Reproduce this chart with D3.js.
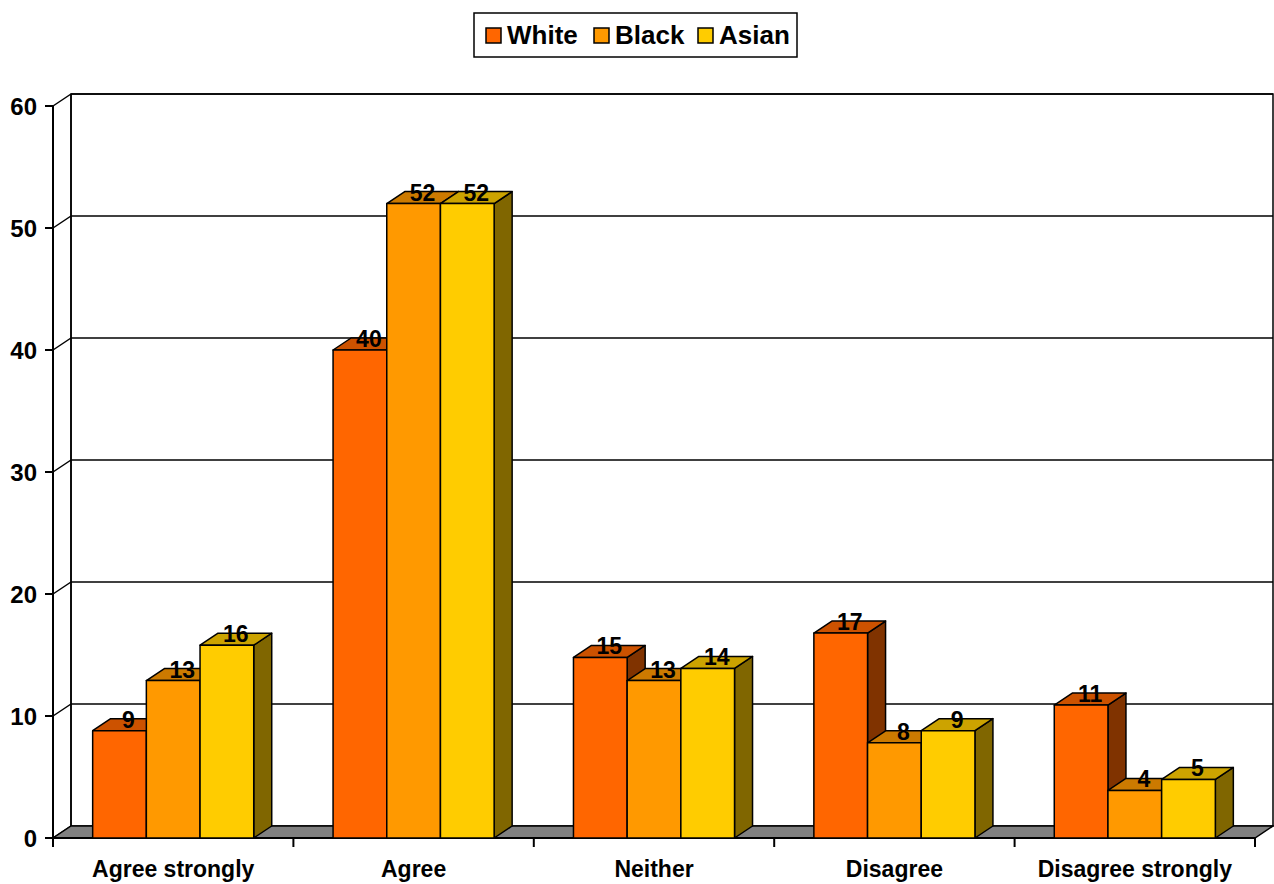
<!DOCTYPE html>
<html><head><meta charset="utf-8">
<script src="https://cdn.jsdelivr.net/npm/d3@7"></script>
<style>html,body{margin:0;padding:0;background:#fff;}svg{display:block;font-family:"Liberation Sans",Arial,sans-serif;font-weight:bold;}</style>
</head><body>
<svg id="c" width="1274" height="884"></svg>
<script>
const categories = ["Agree strongly","Agree","Neither","Disagree","Disagree strongly"];
const seriesNames = ["White","Black","Asian"];
const white = [8.8, 40, 14.8, 16.8, 10.9];
const black = [12.9, 52, 12.9, 7.8, 3.9];
const asian = [15.8, 52, 13.9, 8.8, 4.8];
const yTicks = [0,10,20,30,40,50,60];
const colors = ["#FF6600","#FF9900","#FFCC00"];

const seriesValues = [white, black, asian];
const svg = d3.select("#c");
const DX = 18, DY = -12;
const x0 = 53, x1 = 1255, yBase = 838, yTop = 106;

const x = d3.scaleBand().domain(categories).range([x0, x1]).paddingInner(0.33).paddingOuter(0.165);
const xs = d3.scaleBand().domain(seriesNames).range([0, x.bandwidth()]);
const y = d3.scaleLinear().domain([0,60]).range([yBase, yTop]);

const shade = (c,k) => { const r = d3.rgb(c); return d3.rgb(r.r*k, r.g*k, r.b*k).formatHex(); };
const poly = pts => pts.map(p => p.join(",")).join(" ");

// Back wall
const gWall = svg.append("g");
gWall.append("polygon")
  .attr("points", poly([[x0+DX, y(60)+DY],[x1+DX, y(60)+DY],[x1+DX, yBase+DY],[x0+DX, yBase+DY]]))
  .attr("fill","#fff").attr("stroke","#000").attr("stroke-width",1.5);
yTicks.forEach(t => {
  if (t > 0) gWall.append("line").attr("x1", x0+DX).attr("x2", x1+DX).attr("y1", y(t)+DY).attr("y2", y(t)+DY)
      .attr("stroke","#000").attr("stroke-width",1.5);
  gWall.append("line").attr("x1", x0).attr("x2", x0+DX).attr("y1", y(t)).attr("y2", y(t)+DY)
      .attr("stroke","#000").attr("stroke-width",1.5);
});
gWall.append("line").attr("x1", x0+DX).attr("x2", x0+DX).attr("y1", y(60)+DY).attr("y2", yBase+DY).attr("stroke","#000").attr("stroke-width",1.5);

// Floor
svg.append("polygon")
  .attr("points", poly([[x0, yBase],[x1, yBase],[x1+DX, yBase+DY],[x0+DX, yBase+DY]]))
  .attr("fill","#808080").attr("stroke","#000").attr("stroke-width",1.5);

// Y axis
const gy = svg.append("g");
gy.append("line").attr("x1", x0).attr("x2", x0).attr("y1", y(60)).attr("y2", yBase).attr("stroke","#000").attr("stroke-width",2);
yTicks.forEach(t => {
  gy.append("line").attr("x1", x0-8).attr("x2", x0).attr("y1", y(t)).attr("y2", y(t)).attr("stroke","#000").attr("stroke-width",2);
  gy.append("text").attr("x", 37).attr("y", y(t)).attr("dy","0.36em").attr("text-anchor","end")
    .attr("font-size", 24).text(t);
});

// X axis
const gx = svg.append("g");
gx.append("line").attr("x1", x0).attr("x2", x1).attr("y1", yBase).attr("y2", yBase).attr("stroke","#000").attr("stroke-width",2);
const step = x.step();
d3.range(categories.length + 1).forEach(i => {
  const xx = x0 + i*step;
  gx.append("line").attr("x1", xx).attr("x2", xx).attr("y1", yBase).attr("y2", yBase+9).attr("stroke","#000").attr("stroke-width",2);
});
categories.forEach(c => {
  gx.append("text").attr("x", x(c) + x.bandwidth()/2).attr("y", 877).attr("text-anchor","middle")
    .attr("font-size", 23).text(c);
});

// Bars
const gBars = svg.append("g");
const labels = [];
categories.forEach((c, ci) => {
  seriesNames.forEach((s, si) => {
    const v = seriesValues[si][ci];
    const bx = x(c) + xs(s), bw = xs.bandwidth();
    const ty = y(v);
    const col = colors[si];
    const g = gBars.append("g").attr("stroke","#000").attr("stroke-width",1.5).attr("stroke-linejoin","round");
    g.append("polygon").attr("points", poly([[bx+bw, ty],[bx+bw+DX, ty+DY],[bx+bw+DX, yBase+DY],[bx+bw, yBase]]))
      .attr("fill", shade(col, 0.5));
    g.append("polygon").attr("points", poly([[bx, ty],[bx+DX, ty+DY],[bx+bw+DX, ty+DY],[bx+bw, ty]]))
      .attr("fill", shade(col, 0.8));
    g.append("rect").attr("x", bx).attr("y", ty).attr("width", bw).attr("height", yBase - ty).attr("fill", col);
    labels.push({x: bx + bw/2 + DX/2, y: ty - 3, t: d3.format(".0f")(v)});
  });
});
svg.append("g").selectAll("text").data(labels).join("text")
  .attr("x", d => d.x).attr("y", d => d.y).attr("text-anchor","middle").attr("font-size", 23).text(d => d.t);

// Legend
const lg = svg.append("g");
lg.append("rect").attr("x", 474).attr("y", 13).attr("width", 323).attr("height", 44).attr("fill","#fff").attr("stroke","#000").attr("stroke-width",1.5);
const legX = [486, 594, 698];
seriesNames.forEach((s, i) => {
  lg.append("rect").attr("x", legX[i]).attr("y", 28).attr("width", 15).attr("height", 15).attr("fill", colors[i]).attr("stroke","#000").attr("stroke-width",1.5);
  lg.append("text").attr("x", legX[i] + 21).attr("y", 44).attr("font-size", 26).text(s);
});
</script>
</body></html>
